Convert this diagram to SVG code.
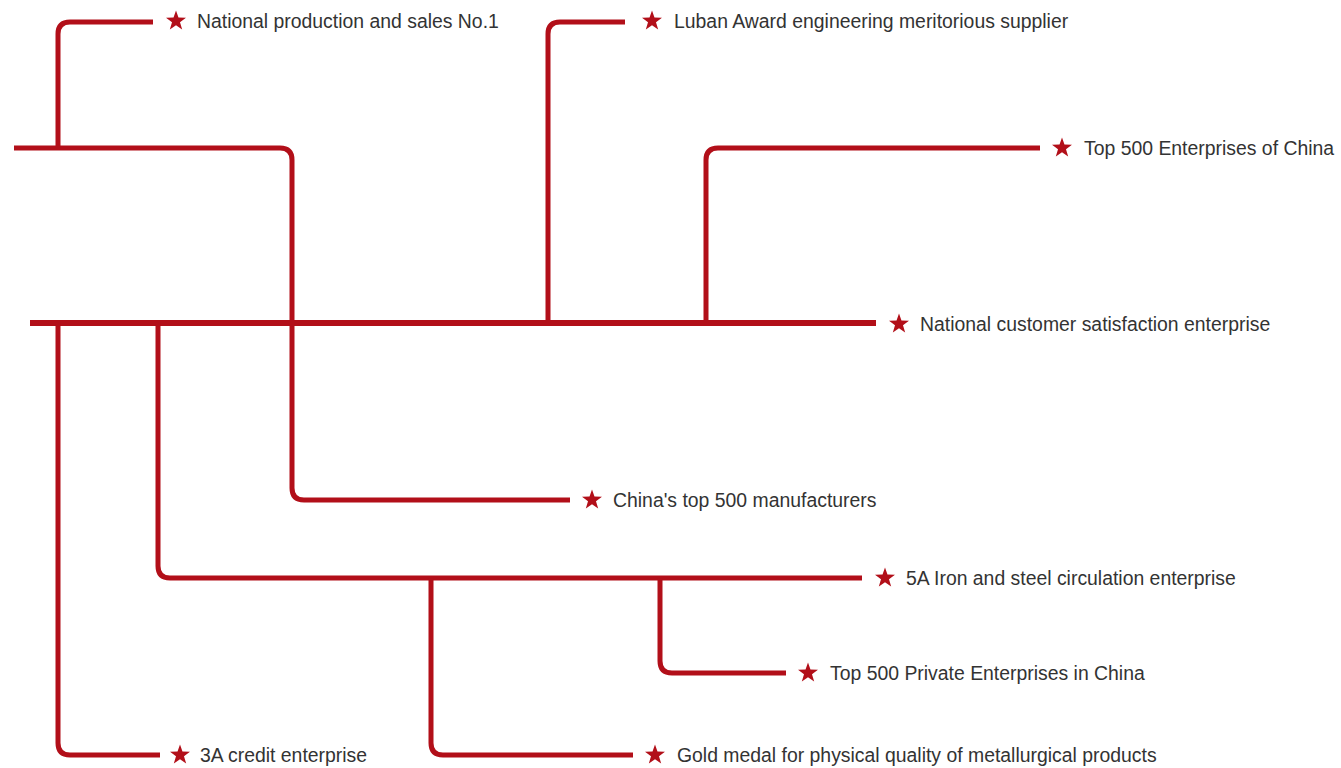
<svg xmlns="http://www.w3.org/2000/svg" xmlns:xlink="http://www.w3.org/1999/xlink" width="1341" height="768" viewBox="0 0 1341 768">
<style>
.ln{fill:none;stroke:#b20f19;stroke-width:5;stroke-linejoin:round}
.main{stroke-width:6}
.lbl{font-family:"Liberation Sans",Arial,sans-serif;font-size:19.4px;fill:#333333}
.star{fill:#b20f19}
</style>
<defs>
<path id="star" d="M0,-10.5 L2.47,-3.4 L9.99,-3.24 L3.99,1.3 L6.17,8.49 L0,4.2 L-6.17,8.49 L-3.99,1.3 L-9.99,-3.24 L-2.47,-3.4 Z"/>
</defs>
<rect width="1341" height="768" fill="#ffffff"/>
<g id="connectors">
<path class="ln" d="M14,148 H280 Q292,148 292,160 V488 Q292,500 304,500 H570"/>
<path class="ln" d="M58,148 V34 Q58,22 70,22 H153"/>
<path class="ln" d="M548,323 V34 Q548,22 560,22 H625"/>
<path class="ln" d="M706,323 V160 Q706,148 718,148 H1040"/>
<path class="ln main" d="M30,323 H876"/>
<path class="ln" d="M58,323 V743 Q58,755 70,755 H160"/>
<path class="ln" d="M158,323 V566 Q158,578 170,578 H862"/>
<path class="ln" d="M431,578 V743 Q431,755 443,755 H633"/>
<path class="ln" d="M660,578 V661 Q660,673 672,673 H786"/>
</g>
<g id="n1"><use href="#star" class="star" x="176" y="21"/><text class="lbl" x="197" y="28">National production and sales No.1</text></g>
<g id="n2"><use href="#star" class="star" x="652" y="21"/><text class="lbl" x="674" y="28">Luban Award engineering meritorious supplier</text></g>
<g id="n3"><use href="#star" class="star" x="1062" y="148"/><text class="lbl" x="1084" y="155">Top 500 Enterprises of China</text></g>
<g id="n4"><use href="#star" class="star" x="899" y="324"/><text class="lbl" x="920" y="331">National customer satisfaction enterprise</text></g>
<g id="n5"><use href="#star" class="star" x="592" y="500"/><text class="lbl" x="613" y="507">China's top 500 manufacturers</text></g>
<g id="n6"><use href="#star" class="star" x="885" y="578"/><text class="lbl" x="906" y="585">5A Iron and steel circulation enterprise</text></g>
<g id="n7"><use href="#star" class="star" x="808" y="673"/><text class="lbl" x="830" y="680">Top 500 Private Enterprises in China</text></g>
<g id="n8"><use href="#star" class="star" x="180" y="755"/><text class="lbl" x="200" y="762">3A credit enterprise</text></g>
<g id="n9"><use href="#star" class="star" x="655" y="755"/><text class="lbl" x="677" y="762">Gold medal for physical quality of metallurgical products</text></g>
</svg>
